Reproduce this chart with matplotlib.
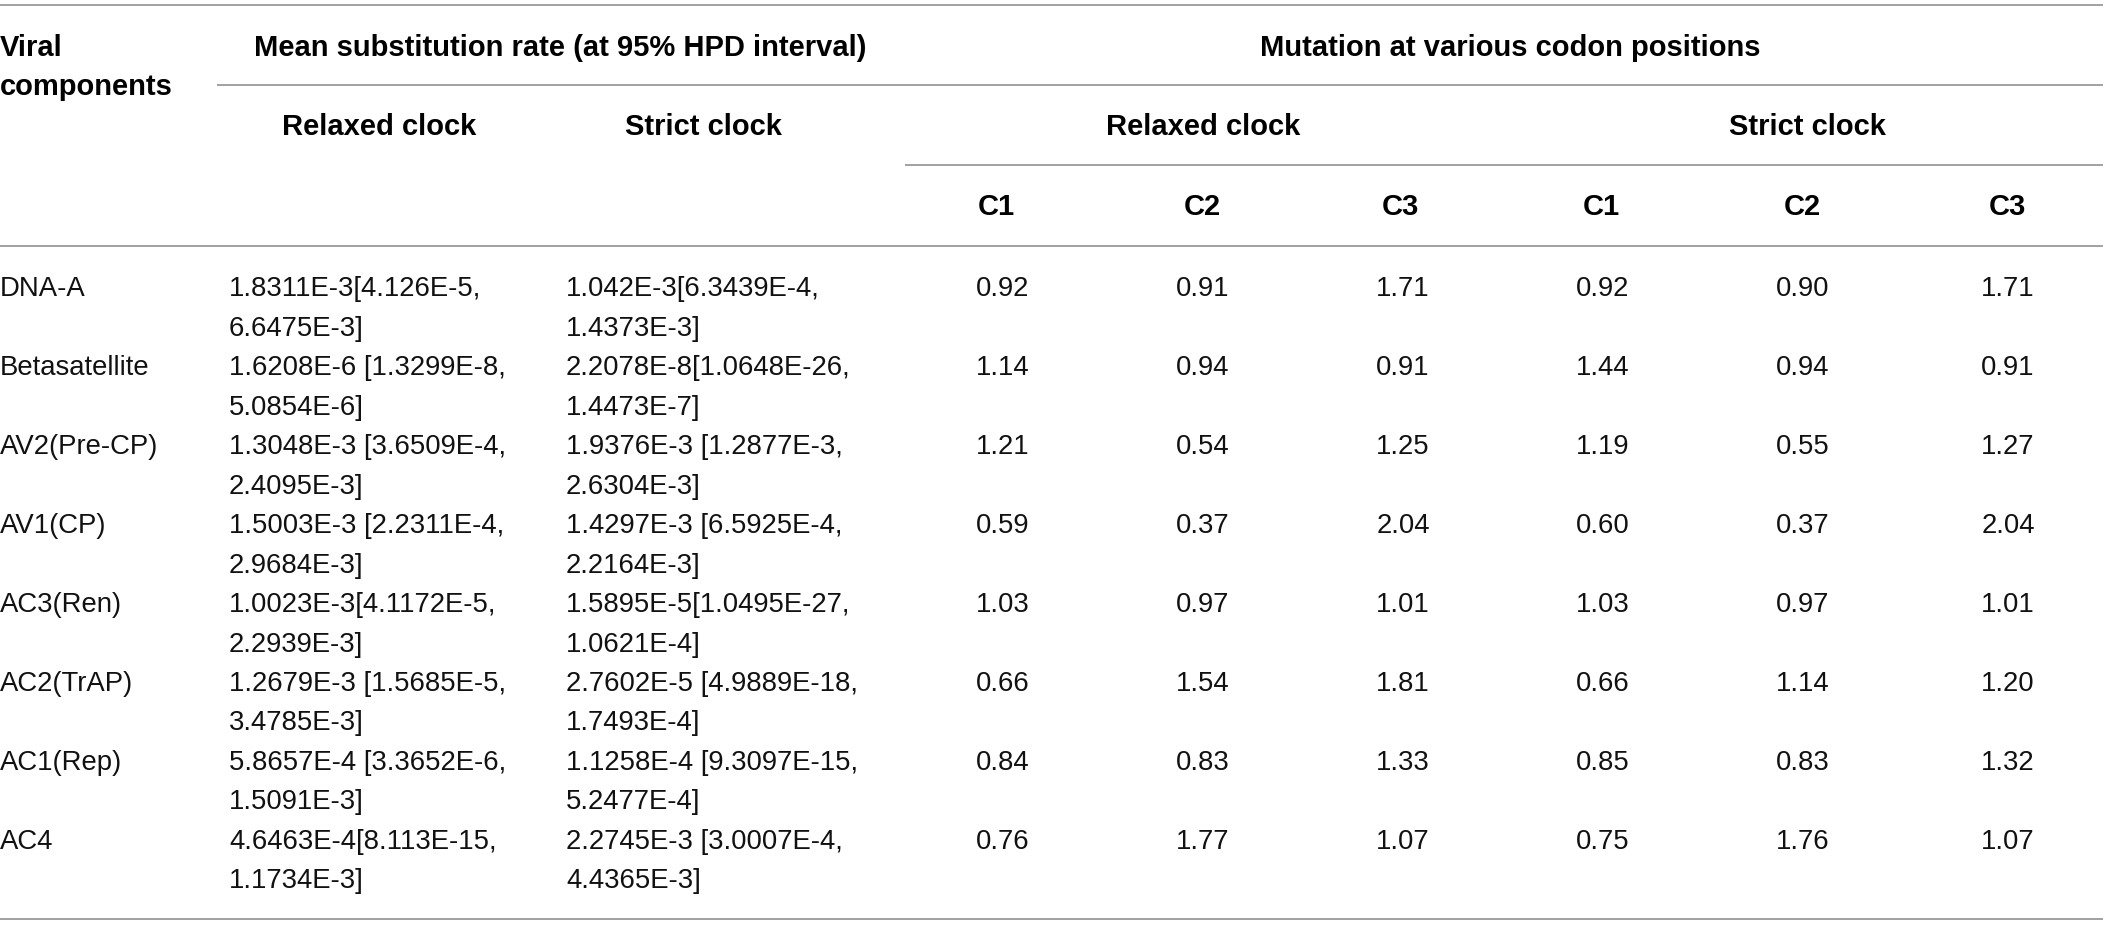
import matplotlib
matplotlib.use("Agg")
import matplotlib.pyplot as plt

# ---------------- data ----------------
components = ["DNA-A", "Betasatellite", "AV2(Pre-CP)", "AV1(CP)",
              "AC3(Ren)", "AC2(TrAP)", "AC1(Rep)", "AC4"]

relaxed_rate = [
    ("1.8311E-3[4.126E-5,", "6.6475E-3]"),
    ("1.6208E-6 [1.3299E-8,", "5.0854E-6]"),
    ("1.3048E-3 [3.6509E-4,", "2.4095E-3]"),
    ("1.5003E-3 [2.2311E-4,", "2.9684E-3]"),
    ("1.0023E-3[4.1172E-5,", "2.2939E-3]"),
    ("1.2679E-3 [1.5685E-5,", "3.4785E-3]"),
    ("5.8657E-4 [3.3652E-6,", "1.5091E-3]"),
    ("4.6463E-4[8.113E-15,", "1.1734E-3]"),
]

strict_rate = [
    ("1.042E-3[6.3439E-4,", "1.4373E-3]"),
    ("2.2078E-8[1.0648E-26,", "1.4473E-7]"),
    ("1.9376E-3 [1.2877E-3,", "2.6304E-3]"),
    ("1.4297E-3 [6.5925E-4,", "2.2164E-3]"),
    ("1.5895E-5[1.0495E-27,", "1.0621E-4]"),
    ("2.7602E-5 [4.9889E-18,", "1.7493E-4]"),
    ("1.1258E-4 [9.3097E-15,", "5.2477E-4]"),
    ("2.2745E-3 [3.0007E-4,", "4.4365E-3]"),
]

relaxed_c1 = [0.92, 1.14, 1.21, 0.59, 1.03, 0.66, 0.84, 0.76]
relaxed_c2 = [0.91, 0.94, 0.54, 0.37, 0.97, 1.54, 0.83, 1.77]
relaxed_c3 = [1.71, 0.91, 1.25, 2.04, 1.01, 1.81, 1.33, 1.07]
strict_c1 = [0.92, 1.44, 1.19, 0.60, 1.03, 0.66, 0.85, 0.75]
strict_c2 = [0.90, 0.94, 0.55, 0.37, 0.97, 1.14, 0.83, 1.76]
strict_c3 = [1.71, 0.91, 1.27, 2.04, 1.01, 1.20, 1.32, 1.07]

codon_labels = ["C1", "C2", "C3", "C1", "C2", "C3"]

# ---------------- layout ----------------
W, H = 2103, 935
fig = plt.figure(figsize=(W / 100, H / 100), dpi=100)
ax = fig.add_axes([0, 0, 1, 1])
ax.set_xlim(0, W)
ax.set_ylim(H, 0)
ax.axis("off")

FONT = "Liberation Sans"
REG = 19.8
BOLD = 21.0
TXT = "#111111"
LINE = "#9a9a9a"
LW = 1.3

def hline(y, x0=0, x1=W):
    ax.plot([x0, x1], [y, y], color=LINE, lw=LW, solid_capstyle="butt")

hline(5)
hline(84.5, 217, W)
hline(165, 905, W)
hline(245.5)
hline(918.5)

def btext(x, y, s, ha="center"):
    ax.text(x, y, s, fontsize=BOLD, fontweight="bold", family=FONT,
            ha=ha, va="baseline", color="black")

def rtext(x, y, s, ha="left"):
    ax.text(x, y, s, fontsize=REG, family=FONT, ha=ha, va="baseline",
            color=TXT)

# headers
btext(0, 56, "Viral", ha="left")
btext(0, 95, "components", ha="left")
btext(560, 56, "Mean substitution rate (at 95% HPD interval)")
btext(1510, 56, "Mutation at various codon positions")
btext(379, 135, "Relaxed clock")
btext(703, 135, "Strict clock")
btext(1203, 135, "Relaxed clock")
btext(1807, 135, "Strict clock")

head_cx = [996, 1202, 1400, 1601, 1802, 2007]
for cx, lab in zip(head_cx, codon_labels):
    btext(cx, 215, lab)

# body
val_cx = [1003, 1203, 1403, 1603, 1803, 2008]
cols = [relaxed_c1, relaxed_c2, relaxed_c3, strict_c1, strict_c2, strict_c3]
y0, dy, dl = 296.5, 78.9, 39.5
for i, name in enumerate(components):
    y = y0 + i * dy
    rtext(0, y, name)
    rtext(229, y, relaxed_rate[i][0])
    rtext(229, y + dl, relaxed_rate[i][1])
    rtext(566, y, strict_rate[i][0])
    rtext(566, y + dl, strict_rate[i][1])
    for cx, col in zip(val_cx, cols):
        rtext(cx, y, f"{col[i]:.2f}", ha="center")

fig.savefig("out.png", dpi=100, facecolor="white")
